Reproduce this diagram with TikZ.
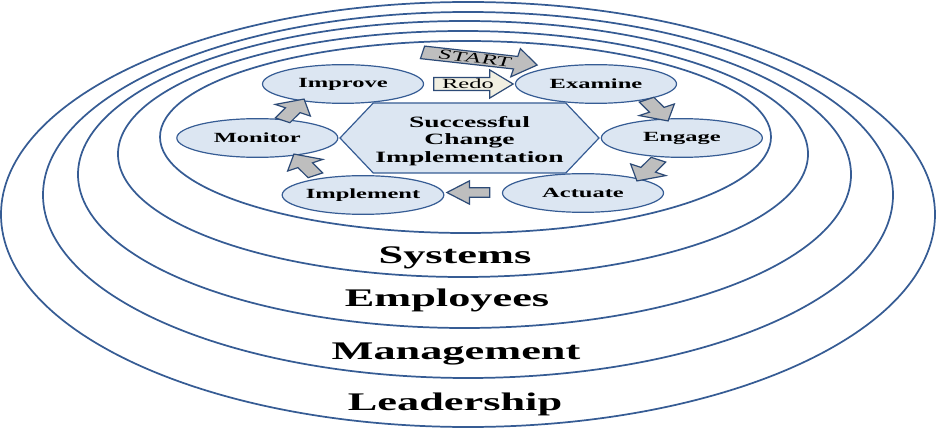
\documentclass[tikz,border=0pt]{standalone}
\usepackage{fontspec}
\setmainfont{Liberation Serif}
\usetikzlibrary{positioning, shapes, arrows}

\definecolor{ringblue}{RGB}{54,92,148}
\definecolor{stagefill}{RGB}{220,230,242}
\definecolor{pushgray}{RGB}{190,190,190}
\definecolor{redofill}{RGB}{242,240,226}
\definecolor{pushedge}{RGB}{44,74,118}

\begin{document}
\begin{tikzpicture}[x=0.428571pt, y=-0.75pt, xscale=1.75, transform shape,
        ring/.style={draw=ringblue, line width=1.3pt},
        stage/.style={draw=ringblue, fill=stagefill, ellipse, line width=0.9pt,
            minimum width=69pt, minimum height=29pt, inner sep=0pt,
            font=\fontsize{10.5}{12}\selectfont\bfseries},
        core/.style={draw=ringblue, fill=stagefill, signal, signal to=east and west,
            signal pointer angle=123, minimum width=111pt, minimum height=52.5pt,
            inner sep=0pt, line width=0.9pt},
        corelabel/.style={align=center, inner sep=0pt,
            font=\fontsize{11.8}{13.1}\selectfont\bfseries},
        tier/.style={anchor=base, font=\fontsize{19}{22}\selectfont\bfseries},
        push/.style={single arrow, draw=pushedge, line width=0.9pt, inner xsep=1pt,
            inner ysep=0.8pt, font=\fontsize{10.5}{12}\selectfont},
        hop/.style={single arrow, draw=pushedge, fill=pushgray, line width=0.9pt,
            minimum height=18.4pt, inner xsep=0pt, inner ysep=3.15pt,
            single arrow head extend=5.1pt, single arrow tip angle=84}]
    \useasboundingbox (0,0) rectangle (936,431);

    % Rings
    \draw[ring] (468,214.5) ellipse [x radius=467, y radius=212.5];
    \draw[ring] (468,195) ellipse [x radius=425, y radius=183];
    \draw[ring] (464.5,174.5) ellipse [x radius=386.5, y radius=153.5];
    \draw[ring] (463,154) ellipse [x radius=345, y radius=123];
    \draw[ring] (465.5,137) ellipse [x radius=305.5, y radius=96];

    % Ring labels
    \node (lead) [tier] at (455,410) {Leadership};
    \node (mgmt) [tier] at (456,359) {Management};
    \node (staff) [tier] at (447,306) {Employees};
    \node (sys) [tier] at (455,263) {Systems};

    % Hub and stages
    \node (hub) [core] at (469.5,138) {};
    \node (hubtext) [corelabel] at (469.5,141) {Successful\\Change\\Implementation};
    \node (monitor) [stage, left=0pt of hub.west] {Monitor};
    \node (engage) [stage, right=0pt of hub.east] {Engage};
    \node (improve) [stage] at (343,84) {Improve};
    \node (examine) [stage] at (596,84) {Examine};
    \node (implement) [stage] at (363,195) {Implement};
    \node (actuate) [stage] at (583,193) {Actuate};

    % Start and redo
    \node (start) [push, fill=pushgray, minimum height=50pt, single arrow head extend=6pt,
        single arrow tip angle=98, rotate=-11, anchor=tip] at ([yshift=3.5pt]examine.north west) {START};
    \node (redo) [push, fill=redofill, minimum height=34pt, single arrow head extend=5.6pt,
        single arrow tip angle=93, anchor=tip] at (examine.west) {Redo};

    % Turns between stages
    \node (ex2en) [hop, rotate=-60] at (655,108) {};
    \node (en2ac) [hop, rotate=-120] at (650,168) {};
    \node (ac2im) [hop, rotate=180] at (473,192.5) {};
    \node (im2mo) [hop, rotate=120] at (307,167) {};
    \node (mo2im) [hop, rotate=60] at (291,112) {};
\end{tikzpicture}
\end{document}
